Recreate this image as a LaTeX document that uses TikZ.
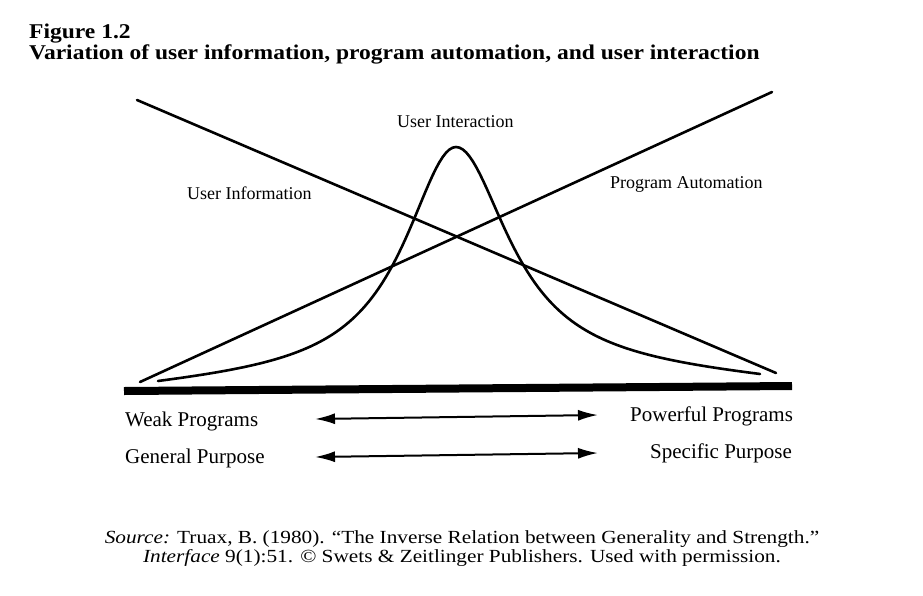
\documentclass[tikz,border=0pt]{standalone}
\usepackage{fontspec}
\setmainfont{Liberation Serif}
\newfontfamily\titlefont[FakeStretch=1.12]{Liberation Serif}
\newfontfamily\sourcefont[FakeStretch=1.15]{Liberation Serif}
\usetikzlibrary{arrows.meta}
\begin{document}
\begin{tikzpicture}
[x=1pt,y=-1pt,
  curvedecorate/.style={line width=2.6pt,line cap=round},
  bardecorate/.style={line width=8pt},
  arrowdecorate/.style={line width=2pt,{Latex[length=20pt,width=11pt]}-{Latex[length=20pt,width=11pt]}},
  labeldecorate/.style={anchor=base west,inner sep=0pt,font=\fontsize{18}{20}\selectfont},
  scaledecorate/.style={anchor=base west,inner sep=0pt,font=\fontsize{21}{24}\selectfont},
  titledecorate/.style={anchor=base west,inner sep=0pt,font=\titlefont\fontsize{21}{24}\selectfont\bfseries},
  sourcedecorate/.style={anchor=base,inner sep=0pt,font=\sourcefont\fontsize{18.5}{20}\selectfont}]
\useasboundingbox (0,0) rectangle (923,595);
%%% title
\node (fig) at (29,38) [titledecorate] {Figure 1.2};
\node (title) at (29,59) [titledecorate] {Variation of user information, program automation, and user interaction};
%%% curves
% end points
\coordinate (infoA) at (137,100);
\coordinate (infoB) at (776,373);
\coordinate (autoA) at (140,382);
\coordinate (autoB) at (772,92);
% lines
\path
(infoA) edge[curvedecorate] (infoB)
(autoA) edge[curvedecorate] (autoB);
% bell curve, left and right half
\draw[curvedecorate]
  plot[domain=158:456,samples=90] (\x,{381-234/(1+((\x-456)/63)^2)+10.0*((\x-456)/298)^2})
  -- plot[domain=456:760,samples=90] (\x,{374-227/(1+((\x-456)/65)^2)+9.9*((\x-456)/304)^2});
% labels
\node (inter) at (397,127) [labeldecorate] {User Interaction};
\node (info) at (187,199) [labeldecorate] {User Information};
\node (auto) at (610,188) [labeldecorate] {Program Automation};
%%% scale
% base bar
\coordinate (barA) at (124,391);
\coordinate (barB) at (792,386);
\path (barA) edge[bardecorate] (barB);
% ends of the scale
\node (weak) at (125,426) [scaledecorate] {Weak Programs};
\node (general) at (125,463) [scaledecorate] {General Purpose};
\node (powerful) at (630,421) [scaledecorate] {Powerful Programs};
\node (specific) at (650,458) [scaledecorate] {Specific Purpose};
% arrows
\coordinate (weakR) at (315,419);
\coordinate (powerfulL) at (598,415);
\coordinate (generalR) at (315,457);
\coordinate (specificL) at (598,453);
\path
(weakR) edge[arrowdecorate] (powerfulL)
(generalR) edge[arrowdecorate] (specificL);
%%% source
\node (src1) at (462,543) [sourcedecorate]
  {\textit{Source:} Truax, B. (1980). “The Inverse Relation between Generality and Strength.”};
\node (src2) at (462,562) [sourcedecorate]
  {\textit{Interface} 9(1):51. © Swets \& Zeitlinger Publishers. Used with permission.};
\end{tikzpicture}
\end{document}
